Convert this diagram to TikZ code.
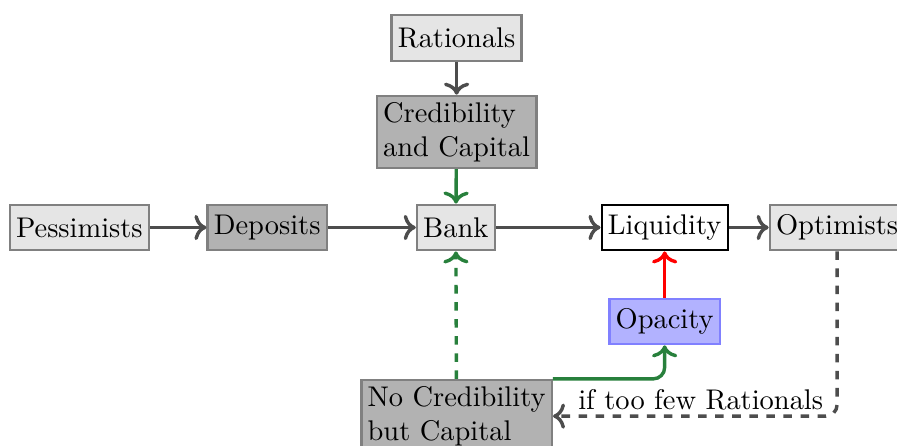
\documentclass[tikz,border=0pt]{standalone}
\usepackage{tikz}
\usetikzlibrary{arrows.meta,positioning}
\definecolor{flowG}{RGB}{40,128,60}
\definecolor{flowK}{RGB}{77,77,77}

\begin{document}
\begin{tikzpicture}[>=To,
  box/.style={thick, inner sep=2.2pt, minimum height=16pt},
  agent/.style={box, draw=gray, fill=black!10},
  asset/.style={box, draw=gray, fill=black!30, align=left},
  flow/.style={->, very thick, draw=flowK}]
  \useasboundingbox (0,0) rectangle (11.08,5.50);
  % top row
  \node[agent] (rat) at (5.64,5.03) {Rationals};
  \node[asset] (cred) at (5.64,3.87) {Credibility\\and Capital};
  % middle row
  \node[agent] (pess) at (0.98,2.69) {Pessimists};
  \node[asset] (dep) at (3.30,2.69) {Deposits};
  \node[agent] (bank) at (5.63,2.69) {Bank};
  \node[box, draw, fill=white] (liq) at (8.21,2.69) {Liquidity};
  \node[agent] (opt) at (10.34,2.69) {Optimists};
  % bottom row
  \node[box, draw=blue!50, fill=blue!30] (opac) at (8.21,1.53) {Opacity};
  \node[asset] (nocred) at (5.64,0.36) {No Credibility\\but Capital};
  % arrows
  \draw[flow] (pess) -- (dep);
  \draw[flow] (dep) -- (bank);
  \draw[flow] (bank) -- (liq);
  \draw[flow] (liq) -- (opt);
  \draw[flow] (rat) -- (cred);
  \draw[flow, draw=flowG] (cred) -- (bank);
  \draw[flow, draw=flowG, dashed] (nocred) -- (bank);
  \draw[flow, draw=flowG, rounded corners] (nocred.north east) -| (opac.south);
  \draw[flow, draw=red] (opac) -- (liq);
  \draw[flow, dashed, rounded corners] (opt.south) |- node[pos=0.74, above, inner sep=1.5pt]{if too few Rationals} (nocred.east);
\end{tikzpicture}
\end{document}
